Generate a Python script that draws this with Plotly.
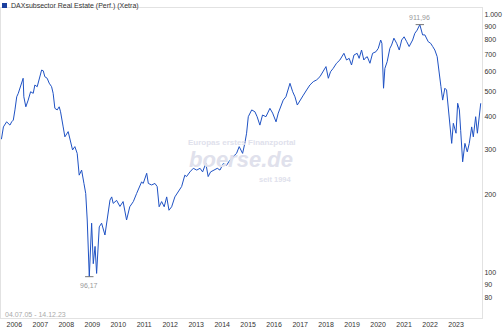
import plotly.graph_objects as go
import numpy as np

dates = [
    "2005-07-04", "2005-08-01", "2005-09-15", "2005-11-01", "2005-11-25", "2005-12-18",
    "2006-01-10", "2006-02-04", "2006-02-26", "2006-03-30", "2006-05-05", "2006-05-15",
    "2006-06-12", "2006-07-15", "2006-08-18", "2006-09-24", "2006-10-17", "2006-11-19",
    "2006-12-17", "2007-01-20", "2007-02-12", "2007-03-06", "2007-04-08", "2007-05-06",
    "2007-06-09", "2007-07-01", "2007-07-25", "2007-08-27", "2007-09-24", "2007-10-13",
    "2007-11-19", "2007-12-13", "2008-01-28", "2008-02-21", "2008-03-30", "2008-05-01",
    "2008-06-03", "2008-07-01", "2008-08-04", "2008-09-06", "2008-10-01", "2008-10-22",
    "2008-11-06", "2008-11-20", "2008-12-23", "2009-01-15", "2009-02-09", "2009-03-03",
    "2009-04-09", "2009-05-12", "2009-06-28", "2009-07-30", "2009-09-07", "2009-10-01",
    "2009-10-22", "2009-12-09", "2010-01-25", "2010-03-10", "2010-04-28", "2010-06-12",
    "2010-08-01", "2010-09-16", "2010-10-09", "2010-11-25", "2010-12-18", "2011-02-05",
    "2011-02-28", "2011-04-15", "2011-06-01", "2011-07-02", "2011-07-30", "2011-09-03",
    "2011-10-09", "2011-11-13", "2011-12-15", "2012-01-22", "2012-03-07", "2012-04-23",
    "2012-06-10", "2012-07-25", "2012-08-18", "2012-10-05", "2012-11-21", "2013-01-08",
    "2013-02-24", "2013-04-01", "2013-05-16", "2013-06-18", "2013-07-22", "2013-09-08",
    "2013-10-24", "2013-12-01", "2014-01-16", "2014-03-04", "2014-04-19", "2014-06-05",
    "2014-07-22", "2014-08-28", "2014-10-15", "2014-11-15", "2014-12-10", "2015-01-03",
    "2015-02-20", "2015-04-06", "2015-05-07", "2015-06-15", "2015-07-22", "2015-09-08",
    "2015-11-03", "2015-12-11", "2016-01-28", "2016-02-28", "2016-04-02", "2016-05-08",
    "2016-06-15", "2016-08-11", "2016-09-18", "2016-10-20", "2016-11-22", "2016-12-30",
    "2017-02-15", "2017-04-02", "2017-05-18", "2017-07-04", "2017-08-21", "2017-10-06",
    "2017-11-22", "2017-12-30", "2018-02-01", "2018-03-04", "2018-04-10", "2018-05-27",
    "2018-07-13", "2018-09-08", "2018-10-15", "2018-11-21", "2018-12-24", "2019-01-27",
    "2019-03-13", "2019-04-10", "2019-05-14", "2019-06-15", "2019-07-01", "2019-08-02",
    "2019-09-09", "2019-10-16", "2019-12-02", "2020-01-04", "2020-02-07", "2020-02-24",
    "2020-03-18", "2020-04-06", "2020-05-08", "2020-06-15", "2020-07-09", "2020-08-11",
    "2020-09-18", "2020-10-25", "2020-11-28", "2021-01-01", "2021-02-07", "2021-03-13",
    "2021-05-01", "2021-06-01", "2021-07-03", "2021-08-10", "2021-09-18", "2021-10-20",
    "2021-12-06", "2022-01-09", "2022-02-07", "2022-03-09", "2022-04-11", "2022-05-10",
    "2022-06-03", "2022-06-27", "2022-07-28", "2022-08-21", "2022-09-14", "2022-10-17",
    "2022-11-01", "2022-11-24", "2023-01-01", "2023-01-24", "2023-02-17", "2023-03-07",
    "2023-04-04", "2023-05-06", "2023-06-08", "2023-07-06", "2023-08-09", "2023-09-01",
    "2023-10-04", "2023-10-28", "2023-11-20", "2023-12-14",
]
values = [
    328, 366, 383, 372, 383, 389,
    426, 479, 494, 524, 565, 479,
    438, 465, 501, 494, 532, 524,
    565, 608, 604, 573, 565, 541,
    524, 494, 432, 426, 438, 419,
    366, 335, 351, 326, 298, 307,
    289, 238, 249, 221, 202, 159.5,
    122, 96.17, 155, 108, 126, 99,
    150, 155, 139.5, 159.5, 190.5, 196,
    185, 190, 180, 188, 159.5, 179.5,
    188, 202, 208, 224, 221, 242,
    221, 218, 221, 215, 179.5, 188,
    179.5, 196, 174, 179.5, 196, 205,
    215, 238, 235, 245, 253, 249,
    253, 245, 264.5, 235, 245, 249,
    253, 249, 264, 260, 272, 281,
    289, 307, 289, 316, 346, 401,
    426, 419, 401, 372, 407, 401,
    432, 414, 383, 414, 438, 465,
    479, 540, 501, 479, 445, 465,
    486, 509, 532, 548, 557, 573,
    599, 627, 565, 599, 617, 646,
    665, 706, 665, 675, 636, 695,
    706, 675, 727, 665, 675, 685,
    646, 706, 716, 738, 795, 772,
    517, 617, 655, 738, 760, 808,
    772, 727, 795, 818, 783, 750,
    795, 844, 868, 911.96, 832, 832,
    783, 772, 750, 727, 685, 573,
    524, 465, 517, 509, 438, 346,
    316, 378, 346, 452, 426, 355,
    268, 316, 293, 316, 366, 335,
    401, 346, 407, 452,
]

y_tickvals = [80, 90, 100, 200, 300, 400, 500, 600, 700, 800, 900, 1000]
y_ticktext = ["80", "90", "100", "200", "300", "400", "500", "600", "700", "800", "900", "1.000"]
x_tickvals = [f"{y}-01-01" for y in range(2006, 2024)]
x_ticktext = [str(y) for y in range(2006, 2024)]

title_text = "DAXsubsector Real Estate (Perf.) (Xetra)"
period_text = "04.07.05 - 14.12.23"

LINE = "#1f52c4"
FONT = "Liberation Sans, Arial, sans-serif"
WM = "#e0e1ec"

PLOT_BOTTOM = 318
PLOT_H = 310
PLOT_LEFT = 1
PLOT_W = 481


def px(xp):
    return (xp - PLOT_LEFT) / PLOT_W


def py(yp):
    return (PLOT_BOTTOM - yp) / PLOT_H


fig = go.Figure()
fig.add_trace(go.Scatter(x=dates, y=values, mode="lines",
                         line=dict(color=LINE, width=1), hoverinfo="skip"))

imax = int(np.argmax(values))
imin = int(np.argmin(values))


def de(v):
    return f"{v:.2f}".replace(".", ",")


fig.add_trace(go.Scatter(x=[dates[imax], dates[imin]], y=[values[imax], values[imin]],
                         mode="markers", marker=dict(symbol="line-ew", size=6,
                         line=dict(color="#777777", width=1)), hoverinfo="skip"))

fig.add_annotation(x=dates[imax], y=np.log10(values[imax]), text=de(values[imax]),
                   showarrow=False, yshift=7, font=dict(size=7, color="#999999", family=FONT))
fig.add_annotation(x=dates[imin], y=np.log10(values[imin]), text=de(values[imin]),
                   showarrow=False, yshift=-9, font=dict(size=7, color="#999999", family=FONT))

# watermark
fig.add_annotation(xref="paper", yref="paper", x=px(242), y=py(142),
                   text="<b>Europas erstes Finanzportal</b>", showarrow=False,
                   font=dict(size=8, color=WM, family=FONT))
fig.add_annotation(xref="paper", yref="paper", x=px(241), y=py(159),
                   text="<b><i>boerse.de</i></b>", showarrow=False,
                   font=dict(size=22, color=WM, family=FONT))
fig.add_annotation(xref="paper", yref="paper", x=px(294), y=py(179),
                   xanchor="right", text="<b>seit 1994</b>", showarrow=False,
                   font=dict(size=7.5, color=WM, family=FONT))

# legend-like title
fig.add_shape(type="rect", xref="paper", yref="paper",
              x0=px(2), x1=px(7), y0=py(8), y1=py(3),
              fillcolor="#1a3f9e", line=dict(width=0))
fig.add_annotation(xref="paper", yref="paper", x=px(9), y=py(5.5),
                   xanchor="left", yanchor="middle", text=title_text, showarrow=False,
                   font=dict(size=7, color="#333333", family=FONT))

fig.add_annotation(xref="paper", yref="paper", x=px(3), y=py(314),
                   xanchor="left", yanchor="middle", text=period_text, showarrow=False,
                   font=dict(size=7, color="#aaaaaa", family=FONT))

fig.update_layout(
    width=504, height=336,
    margin=dict(l=1, r=22, t=8, b=18),
    paper_bgcolor="white", plot_bgcolor="white",
    showlegend=False,
    xaxis=dict(type="date", range=["2005-06-28", "2024-01-01"],
               tickvals=x_tickvals, ticktext=x_ticktext,
               showgrid=False, zeroline=False, ticks="",
               showline=True, linecolor="#e2e2e2", linewidth=1, mirror=True,
               tickfont=dict(size=7, color="#333333", family=FONT)),
    yaxis=dict(type="log", range=[1.8229, 3.0244], side="right",
               tickvals=y_tickvals, ticktext=y_ticktext,
               showgrid=False, zeroline=False, ticks="",
               showline=True, linecolor="#e2e2e2", linewidth=1, mirror=True,
               tickfont=dict(size=7, color="#333333", family=FONT)),
)

fig.write_html("out.html")
